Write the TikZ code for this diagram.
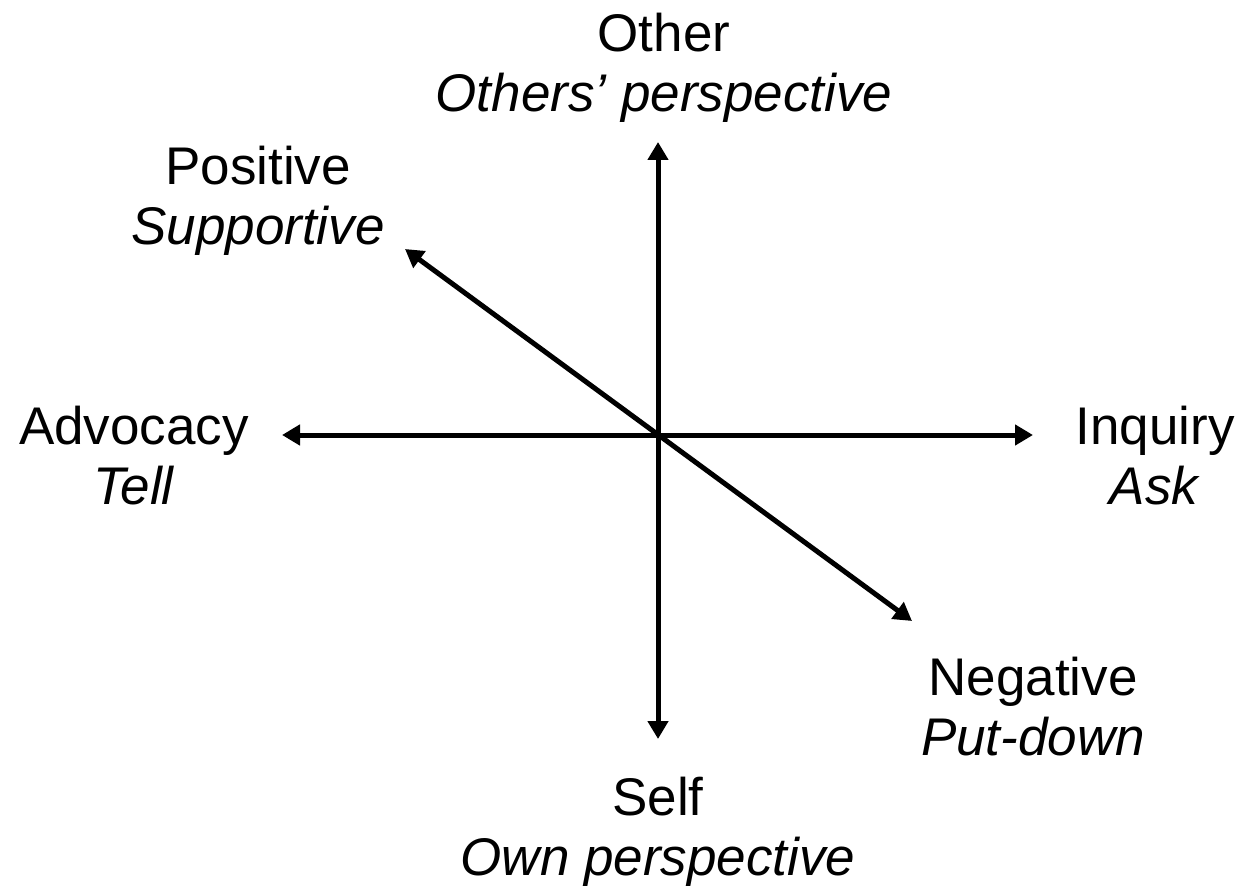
\documentclass[tikz,border=0pt]{standalone}
\usepackage{fontspec}
\setmainfont{Liberation Sans}
\usetikzlibrary{arrows.meta}
\begin{document}
\begin{tikzpicture}[x=1pt,y=-1pt,
  axis/.style={line width=5pt,{Triangle[length=18pt,width=20pt]}-{Triangle[length=18pt,width=20pt]}},
  lbl/.style={align=center,inner sep=0pt,font=\fontsize{53}{60}\selectfont,anchor=base}]
\useasboundingbox (0,0) rectangle (1241,890);
\coordinate (o) at (658,435);
\coordinate (top) at (658,142);
\coordinate (bot) at (658,739);
\coordinate (lft) at (282,435);
\coordinate (rgt) at (1033,435);
\coordinate (ul) at (405,249);
\coordinate (lr) at (912,621);
\draw[axis] (top) -- (bot);
\draw[axis] (lft) -- (rgt);
\draw[axis] (ul) -- (lr);
\node[lbl] (other) at (664,112) {Other\\\textit{Others’ perspective}};
\node[lbl] (pos) at (258,245) {Positive\\\textit{Supportive}};
\node[lbl] (adv) at (134,504) {Advocacy\\\textit{Tell}};
\node[lbl] (inq) at (1155,504) {Inquiry\\\textit{Ask}};
\node[lbl] (neg) at (1033,755) {Negative\\\textit{Put-down}};
\node[lbl] (self) at (658,875) {Self\\\textit{Own perspective}};
\end{tikzpicture}
\end{document}
